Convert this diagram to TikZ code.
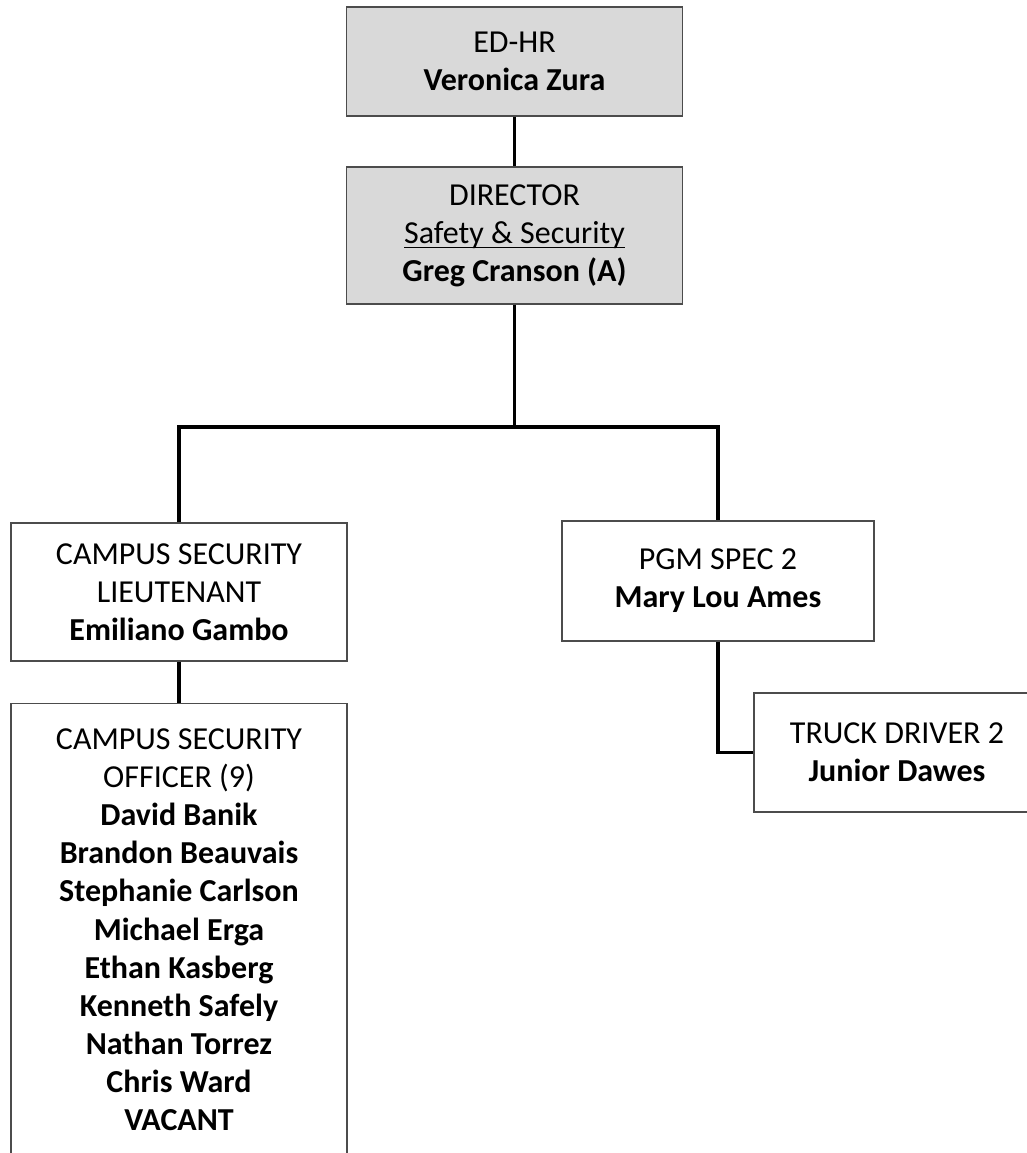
\documentclass[tikz,border=0pt]{standalone}
\usepackage{fontspec}
\setmainfont{Carlito}
\newcommand\ulined[1]{\setbox0\hbox{#1}\rlap{\rule[-3.9pt]{\wd0}{0.8pt}}\box0}

\begin{document}
\begin{tikzpicture}[x=0.75pt,y=-0.75pt,
		box/.style={draw=black!70, line width=0.9pt, align=center, inner sep=0pt,
			font=\fontsize{24}{28.6}\selectfont},
		hrbox/.style={box, fill=black!15},
		conn/.style={line width=2.4pt, black}]
		\def\bw{336*0.75pt}
		\useasboundingbox (0,0) rectangle (1026,1153);
		% top of the chart
		\node[hrbox, minimum width={\bw}, minimum height={109*0.75pt}] (edhr) at (514.5,61.5)
			{ED-HR\\\textbf{Veronica Zura}};
		\node[hrbox, minimum width={\bw}, minimum height={137*0.75pt}] (dir) at (514.5,235.5)
			{DIRECTOR\\\ulined{Safety \& Security}\\\textbf{Greg Cranson (A)}};
		% second row
		\node[box, minimum width={\bw}, minimum height={138*0.75pt}] (lt) at (179,592)
			{CAMPUS SECURITY\\LIEUTENANT\\\textbf{Emiliano Gambo}};
		\node[box, minimum width={312*0.75pt}, minimum height={120*0.75pt}] (pgm) at (718,581)
			{PGM SPEC 2\\\textbf{Mary Lou Ames}};
		% third row
		\node[box, minimum width={\bw}, inner ysep={25*0.75pt}, anchor=north] (off) at (179,703)
			{CAMPUS SECURITY\\OFFICER (9)\\\textbf{David Banik}\\\textbf{Brandon Beauvais}\\
			\textbf{Stephanie Carlson}\\\textbf{Michael Erga}\\\textbf{Ethan Kasberg}\\
			\textbf{Kenneth Safely}\\\textbf{Nathan Torrez}\\\textbf{Chris Ward}\\\textbf{VACANT}};
		\node[box, minimum width={286*0.75pt}, minimum height={119*0.75pt}] (truck) at (897,752.5)
			{TRUCK DRIVER 2\\\textbf{Junior Dawes}};
		% connectors
		\coordinate (bar) at (514.5,427);
		\draw[conn] (edhr) -- (dir);
		\draw[conn] (dir.south) -- (bar);
		\draw[conn] (lt.north) |- (bar) -| (pgm.north);
		\draw[conn] (lt) -- (off);
		\draw[conn] (pgm.south) |- (truck.west);
	\end{tikzpicture}
\end{document}
